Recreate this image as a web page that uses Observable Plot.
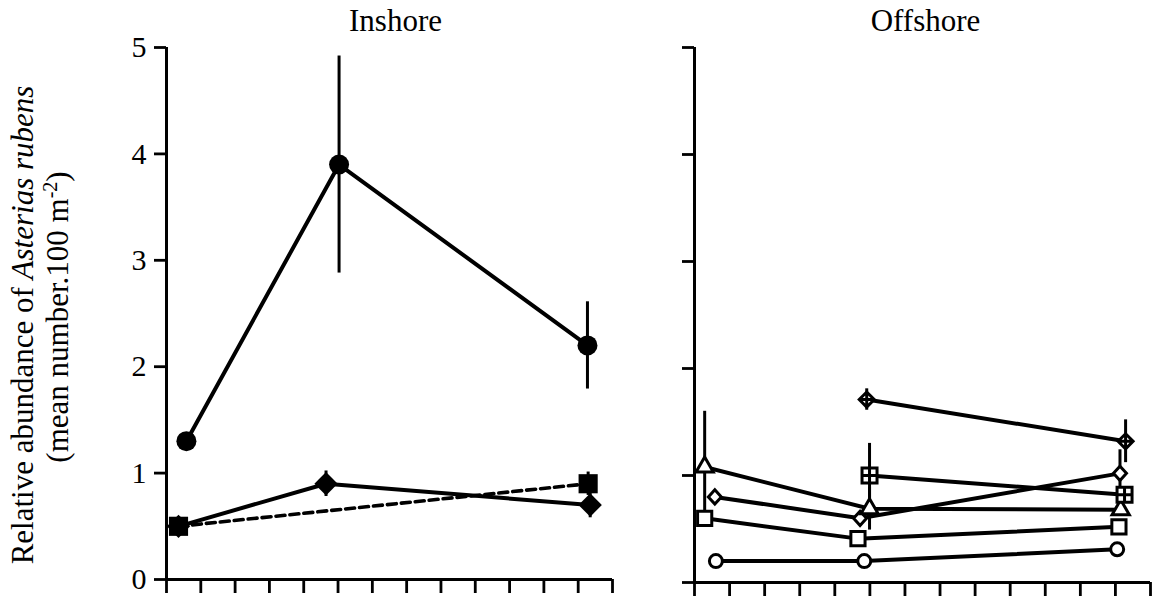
<!DOCTYPE html>
<html>
<head>
<meta charset="utf-8">
<script src="https://cdn.jsdelivr.net/npm/d3@7"></script>
<script src="https://cdn.jsdelivr.net/npm/@observablehq/plot@0.6"></script>
<style>
  html, body { margin: 0; padding: 0; background: #fff; }
  #chart { position: relative; width: 1164px; height: 599px; overflow: hidden; background: #fff; }
  #chart svg { position: absolute; top: 0; }
</style>
</head>
<body>
<div id="chart"></div>
<script>
// Sampling occasions are placed on a monthly grid (tick every month, 0..13).
// Each row: [month position, mean abundance, standard error]
const inshoreCircle  = [[0.58, 1.30, 0], [5.03, 3.90, 1.02], [12.27, 2.20, 0.41]];
const inshoreDiamond = [[0.35, 0.50, 0], [4.65, 0.90, 0.12], [12.35, 0.70, 0.12]];
const inshoreSquare  = [[0.35, 0.50, 0], [12.29, 0.90, 0.11]];

const offshoreCircle       = [[0.61, 0.20, 0], [4.84, 0.20, 0], [12.05, 0.31, 0]];
const offshoreSquare       = [[0.29, 0.60, 0], [4.66, 0.41, 0], [12.10, 0.52, 0]];
const offshoreDiamond      = [[0.58, 0.80, 0], [4.72, 0.60, 0], [12.13, 1.02, 0.22]];
const offshoreTriangle     = [[0.29, 1.08, 0.52], [4.99, 0.69, 0.20], [12.15, 0.68, 0]];
const offshoreSquareCross  = [[4.99, 1.00, 0.30], [12.26, 0.82, 0]];
const offshoreDiamondCross = [[4.91, 1.71, 0.10], [12.29, 1.32, 0.20]];

const xTicks = d3.range(0, 14);
const yTicks = [0, 1, 2, 3, 4, 5];
const panelTitles = ["Inshore", "Offshore"];

const FONT = "'Liberation Serif', 'Times New Roman', Times, serif";

const rows = (arr) => arr.map(([x, y, se]) => ({x, y, se}));
const withError = (arr) => rows(arr).filter(d => d.se > 0);

// Square with an inner cross (half-side = r)
const squareCross = {
  draw(ctx, size) {
    const h = Math.sqrt(size / Math.PI);
    ctx.moveTo(-h, -h); ctx.lineTo(h, -h); ctx.lineTo(h, h); ctx.lineTo(-h, h); ctx.closePath();
    ctx.moveTo(0, -h); ctx.lineTo(0, h);
    ctx.moveTo(-h, 0); ctx.lineTo(h, 0);
  }
};
// Diamond with an inner cross (half-diagonal = r)
const diamondCross = {
  draw(ctx, size) {
    const h = Math.sqrt(size / Math.PI);
    ctx.moveTo(0, -h); ctx.lineTo(h, 0); ctx.lineTo(0, h); ctx.lineTo(-h, 0); ctx.closePath();
    ctx.moveTo(0, -h); ctx.lineTo(0, h);
    ctx.moveTo(-h, 0); ctx.lineTo(h, 0);
  }
};
// Plain diamond (half-diagonal = r)
const diamondOpen = {
  draw(ctx, size) {
    const h = Math.sqrt(size / Math.PI);
    ctx.moveTo(0, -h * 1.1); ctx.lineTo(h, 0); ctx.lineTo(0, h * 1.1); ctx.lineTo(-h, 0); ctx.closePath();
  }
};

function frameMarks(showLabels, title, dx) {
  return [
    Plot.ruleX([0], {strokeWidth: 3}),
    Plot.ruleY([0], {strokeWidth: 3}),
    Plot.axisY({ticks: yTicks, tickSize: 12, tickPadding: 8, strokeWidth: 2.8, fontSize: 30,
                label: null, tickFormat: showLabels ? d3.format("d") : () => ""}),
    Plot.axisX({ticks: xTicks, tickSize: 14, strokeWidth: 2.8, label: null, tickFormat: () => ""}),
    Plot.text([title], {text: d => d, frameAnchor: "top", lineAnchor: "bottom", dy: -17, dx,
                        fontSize: 31, fill: "black"})
  ];
}

const commonStyle = {fontFamily: FONT, fontSize: "30px", color: "black", background: "transparent", overflow: "visible"};

// ---- Inshore panel ----
const inshore = Plot.plot({
  width: 640, height: 599,
  marginLeft: 166, marginRight: 28, marginTop: 47, marginBottom: 20,
  x: {domain: [0, 13], label: null},
  y: {domain: [0, 5], label: null},
  style: commonStyle,
  marks: [
    ...frameMarks(true, panelTitles[0], 6),
    Plot.line(rows(inshoreCircle), {x: "x", y: "y", stroke: "black", strokeWidth: 4}),
    Plot.line(rows(inshoreDiamond), {x: "x", y: "y", stroke: "black", strokeWidth: 4}),
    Plot.line(rows(inshoreSquare), {x: "x", y: "y", stroke: "black", strokeWidth: 3.6, strokeDasharray: "9,5"}),
    Plot.ruleX([...withError(inshoreCircle), ...withError(inshoreDiamond), ...withError(inshoreSquare)],
               {x: "x", y1: d => d.y - d.se, y2: d => d.y + d.se, stroke: "black", strokeWidth: 3}),
    Plot.dot(rows(inshoreDiamond), {x: "x", y: "y", symbol: "diamond2", r: 10.5, fill: "black", stroke: "none"}),
    Plot.dot(rows(inshoreSquare), {x: "x", y: "y", symbol: "square", r: 10.8, fill: "black", stroke: "none"}),
    Plot.dot(rows(inshoreCircle), {x: "x", y: "y", symbol: "circle", r: 10, fill: "black", stroke: "none"})
  ]
});

// Two-line y-axis title with italic species name and superscript unit
const ysvg = d3.select(inshore);
const yTitle = (x, y) => ysvg.append("text")
  .attr("transform", `translate(${x},${y}) rotate(-90)`)
  .attr("text-anchor", "middle")
  .style("font-family", FONT).style("font-size", "31px").style("fill", "black");
const l1 = yTitle(33, 325);
l1.append("tspan").text("Relative abundance of ");
l1.append("tspan").style("font-style", "italic").text("Asterias rubens");
const l2 = yTitle(68, 317);
l2.append("tspan").text("(mean number.100 m");
l2.append("tspan").style("font-size", "20px").attr("baseline-shift", "super").text("-2");
l2.append("tspan").text(")");

// ---- Offshore panel ----
const openDot = (data, symbol, r) =>
  Plot.dot(rows(data), {x: "x", y: "y", symbol, r, fill: "white", stroke: "black", strokeWidth: 3});

const offshoreAll = [offshoreCircle, offshoreSquare, offshoreDiamond, offshoreTriangle, offshoreSquareCross, offshoreDiamondCross];

const offshore = Plot.plot({
  width: 524, height: 599,
  marginLeft: 54, marginRight: 14, marginTop: 47, marginBottom: 17,
  x: {domain: [0, 13], label: null},
  y: {domain: [0, 5], label: null},
  style: commonStyle,
  marks: [
    ...frameMarks(false, panelTitles[1], 3),
    ...offshoreAll.map(s => Plot.line(rows(s), {x: "x", y: "y", stroke: "black", strokeWidth: 4})),
    Plot.ruleX(offshoreAll.flatMap(withError),
               {x: "x", y1: d => d.y - d.se, y2: d => d.y + d.se, stroke: "black", strokeWidth: 3}),
    openDot(offshoreCircle, "circle", 6.5),
    openDot(offshoreSquare, "square", 8),
    openDot(offshoreDiamond, diamondOpen, 6.5),
    openDot(offshoreTriangle, "triangle", 6.4),
    openDot(offshoreSquareCross, squareCross, 7.5),
    openDot(offshoreDiamondCross, diamondCross, 7.5)
  ]
});

inshore.style.left = "0px";
offshore.style.left = "640px";
const chart = document.getElementById("chart");
chart.append(inshore, offshore);
</script>
</body>
</html>
